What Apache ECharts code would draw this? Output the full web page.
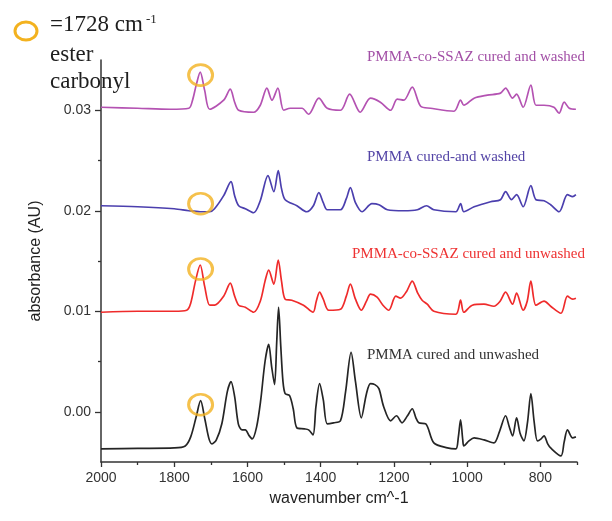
<!DOCTYPE html>
<html>
<head>
<meta charset="utf-8">
<script src="https://cdn.jsdelivr.net/npm/echarts@6/dist/echarts.min.js"></script>
<style>
html,body{margin:0;padding:0;background:#fff;}
#chart{width:612px;height:521px;}
</style>
</head>
<body>
<div id="chart"></div>
<script>
// ---- data ----
const seriesNames = ['PMMA-co-SSAZ cured and washed', 'PMMA cured-and washed', 'PMMA-co-SSAZ cured and unwashed', 'PMMA cured and unwashed'];
const seriesColors = ['#b452b2', '#4b3fae', '#ef2b2b', '#252525'];
const labelColors = ['#a24fa6', '#5344a6', '#ee3232', '#333333'];

const wnPurple = [2000,1900,1811,1760,1750,1740,1729,1717,1703,1665,1647,1635,1624,1583,1565,1547,1533,1517,1501,1483,1451,1433,1405,1382,1346,1321,1292,1264,1237,1209,1191,1173,1150,1127,1100,1036,1018,1009,981,945,909,895,876,865,847,826,812,790,763,749,735,721,703];
const absPurple = [0.0303,0.0302,0.0301,0.0302,0.0310,0.0325,0.0338,0.0320,0.0301,0.0310,0.0321,0.0308,0.0300,0.0298,0.0305,0.0322,0.0310,0.0322,0.0300,0.0302,0.0302,0.0296,0.0312,0.0302,0.0300,0.0316,0.0298,0.0312,0.0308,0.0300,0.0311,0.0310,0.0323,0.0304,0.0302,0.0299,0.0310,0.0305,0.0312,0.0315,0.0317,0.0322,0.0312,0.0316,0.0303,0.0325,0.0305,0.0305,0.0303,0.0297,0.0308,0.0302,0.0301];

const wnBlue = [2000,1900,1800,1760,1729,1703,1690,1665,1645,1635,1624,1606,1583,1565,1544,1528,1516,1507,1497,1465,1438,1420,1405,1393,1382,1346,1330,1319,1305,1287,1260,1241,1218,1173,1136,1111,1091,1031,1018,1009,981,936,909,895,879,865,847,826,812,790,772,749,726,712,703];
const absBlue = [0.0205,0.0204,0.0202,0.0200,0.0199,0.0199,0.0202,0.0215,0.0229,0.0215,0.0205,0.0202,0.0198,0.0210,0.0235,0.0219,0.0240,0.0222,0.0211,0.0205,0.0199,0.0205,0.0218,0.0208,0.0201,0.0201,0.0212,0.0223,0.0208,0.0199,0.0207,0.0206,0.0201,0.0200,0.0201,0.0205,0.0201,0.0199,0.0207,0.0199,0.0204,0.0209,0.0211,0.0219,0.0211,0.0216,0.0204,0.0225,0.0211,0.0210,0.0206,0.0199,0.0216,0.0214,0.0216];

const wnRed = [2000,1900,1800,1766,1755,1742,1729,1717,1703,1690,1665,1647,1635,1624,1606,1583,1565,1552,1542,1528,1516,1507,1497,1479,1447,1421,1412,1403,1393,1378,1346,1330,1319,1305,1289,1275,1264,1246,1230,1214,1195,1182,1165,1150,1135,1123,1109,1091,1031,1018,1009,986,954,927,910,895,876,865,847,836,826,812,790,772,744,726,712,703];
const absRed = [0.0099,0.0100,0.0100,0.0101,0.0108,0.0130,0.0146,0.0125,0.0106,0.0106,0.0115,0.0128,0.0115,0.0106,0.0104,0.0099,0.0110,0.0130,0.0141,0.0127,0.0151,0.0130,0.0112,0.0111,0.0106,0.0099,0.0110,0.0119,0.0112,0.0101,0.0102,0.0115,0.0127,0.0112,0.0101,0.0110,0.0117,0.0114,0.0106,0.0101,0.0115,0.0113,0.0120,0.0130,0.0118,0.0111,0.0107,0.0100,0.0097,0.0111,0.0099,0.0106,0.0107,0.0105,0.0110,0.0119,0.0107,0.0118,0.0101,0.0110,0.0130,0.0106,0.0110,0.0105,0.0098,0.0115,0.0112,0.0113];

const wnBlack = [2000,1900,1800,1770,1755,1740,1728,1716,1705,1697,1685,1670,1655,1645,1635,1625,1615,1606,1595,1587,1575,1564,1552,1542,1534,1526,1520,1515,1509,1503,1497,1485,1475,1465,1445,1433,1421,1413,1403,1393,1382,1365,1346,1332,1317,1305,1289,1275,1264,1252,1241,1228,1209,1193,1178,1163,1150,1140,1132,1113,1091,1054,1031,1024,1018,1012,1009,995,981,954,927,912,895,885,876,865,855,845,835,826,817,808,798,790,780,772,744,735,726,712,703];
const absBlack = [-0.0037,-0.00365,-0.0036,-0.0034,-0.0025,-0.0005,0.0011,-0.0008,-0.0027,-0.0032,-0.0028,-0.0012,0.0020,0.0030,0.0015,-0.0012,-0.0018,-0.0018,-0.0024,-0.0027,-0.0015,0.0011,0.0050,0.0067,0.0045,0.0027,0.0070,0.0104,0.0065,0.0030,0.0018,0.0016,0.0003,-0.0016,-0.0017,-0.0018,-0.0023,0.0005,0.0028,0.0012,-0.0012,-0.0011,-0.0009,0.0020,0.0059,0.0030,-0.0006,0.0018,0.0028,0.0027,0.0023,0.0005,-0.0009,-0.0004,-0.0011,-0.0004,0.0003,-0.0006,-0.0011,-0.0012,-0.0031,-0.0036,-0.0037,-0.0025,-0.0008,-0.0028,-0.0034,-0.0029,-0.0026,-0.0028,-0.0031,-0.0020,-0.0004,-0.0015,-0.0024,-0.0006,-0.0022,-0.0029,-0.0010,0.0018,-0.0010,-0.0029,-0.0027,-0.0024,-0.0032,-0.0036,-0.0044,-0.0030,-0.0018,-0.0026,-0.0025];

// ester carbonyl markers (circles) at 1728 cm-1
const markerWn = [1728, 1728, 1728, 1728];
const markerAbs = [0.0335, 0.0207, 0.0142, 0.0007];

const xMajorTicks = [2000, 1800, 1600, 1400, 1200, 1000, 800];
const xMinorTicks = [1900, 1700, 1500, 1300, 1100, 900, 700];
const yMajorTicks = [0.00, 0.01, 0.02, 0.03];
const yMinorTicks = [0.005, 0.015, 0.025];

// ---- chart ----
const zip = (xs, ys) => xs.map((x, i) => [x, ys[i]]);
const allWn = [wnPurple, wnBlue, wnRed, wnBlack];
const allAbs = [absPurple, absBlue, absRed, absBlack];

const chart = echarts.init(document.getElementById('chart'), null, {renderer: 'canvas'});
const axisColor = '#333';
const sans = 'Liberation Sans, Arial, sans-serif';
const serif = 'Liberation Serif, Times New Roman, serif';

const lineSeries = allWn.map((wn, i) => ({
  name: seriesNames[i],
  type: 'line',
  xAxisIndex: 0, yAxisIndex: 0,
  data: zip(wn, allAbs[i]),
  showSymbol: false,
  smooth: 0.3,
  lineStyle: {color: seriesColors[i], width: 1.7},
  itemStyle: {color: seriesColors[i]},
  z: 2
}));

const option = {
  backgroundColor: '#ffffff',
  animation: false,
  grid: {left: 101, right: 35, top: 60, bottom: 59, containLabel: false},
  xAxis: [
    {
      type: 'value', inverse: true, min: 700, max: 2000, position: 'bottom',
      axisLine: {show: true, onZero: false, lineStyle: {color: axisColor, width: 1.5}},
      axisTick: {show: true, customValues: xMajorTicks, length: 5, lineStyle: {color: axisColor, width: 1.3}},
      axisLabel: {customValues: xMajorTicks, fontFamily: sans, fontSize: 14, color: '#333', margin: 9,
        formatter: v => String(Math.round(v))},
      splitLine: {show: false},
      name: 'wavenumber cm^-1', nameLocation: 'middle', nameGap: 29,
      nameTextStyle: {fontFamily: sans, fontSize: 16, color: '#222'}
    },
    {
      type: 'value', inverse: true, min: 700, max: 2000, position: 'bottom',
      axisLine: {show: false, onZero: false},
      axisTick: {show: true, customValues: xMinorTicks, length: 3, lineStyle: {color: axisColor, width: 1.3}},
      axisLabel: {show: false},
      splitLine: {show: false}
    }
  ],
  yAxis: [
    {
      type: 'value', min: -0.005, max: 0.035, position: 'left',
      axisLine: {show: true, onZero: false, lineStyle: {color: axisColor, width: 1.5}},
      axisTick: {show: true, customValues: yMajorTicks, length: 6, lineStyle: {color: axisColor, width: 1.3}},
      axisLabel: {customValues: yMajorTicks, fontFamily: sans, fontSize: 14, color: '#333', margin: 10,
        formatter: v => Number(v).toFixed(2)},
      splitLine: {show: false},
      name: 'absorbance (AU)', nameLocation: 'middle', nameGap: 57, nameRotate: 90,
      nameTextStyle: {fontFamily: sans, fontSize: 16, color: '#222'}
    },
    {
      type: 'value', min: -0.005, max: 0.035, position: 'left',
      axisLine: {show: false, onZero: false},
      axisTick: {show: true, customValues: yMinorTicks, length: 3, lineStyle: {color: axisColor, width: 1.3}},
      axisLabel: {show: false},
      splitLine: {show: false}
    }
  ],
  series: lineSeries.concat([{
    type: 'scatter',
    xAxisIndex: 0, yAxisIndex: 0,
    data: zip(markerWn, markerAbs),
    symbol: 'circle',
    symbolSize: [24, 21],
    itemStyle: {color: 'rgba(0,0,0,0)', borderColor: '#f3b21f', borderWidth: 2.8},
    z: 5,
    silent: true
  }]),
  graphic: [
    {type: 'ellipse', shape: {cx: 26, cy: 31, rx: 11, ry: 9},
     style: {fill: 'none', stroke: '#f3b21f', lineWidth: 3}},
    {type: 'text', x: 50, y: 25, style: {text: '=1728 cm', font: '23px ' + serif, fill: '#1e1e1e', verticalAlign: 'middle'}},
    {type: 'text', x: 146, y: 20, style: {text: '-1', font: '13px ' + serif, fill: '#1e1e1e', verticalAlign: 'middle'}},
    {type: 'text', x: 50, y: 55, style: {text: 'ester', font: '23px ' + serif, fill: '#1e1e1e', verticalAlign: 'middle'}},
    {type: 'text', x: 50, y: 82, style: {text: 'carbonyl', font: '23px ' + serif, fill: '#1e1e1e', verticalAlign: 'middle'}},
    {type: 'text', x: 367, y: 57, style: {text: seriesNames[0], font: '15px ' + serif, fill: labelColors[0], verticalAlign: 'middle'}},
    {type: 'text', x: 367, y: 157, style: {text: seriesNames[1], font: '15px ' + serif, fill: labelColors[1], verticalAlign: 'middle'}},
    {type: 'text', x: 352, y: 254, style: {text: seriesNames[2], font: '15px ' + serif, fill: labelColors[2], verticalAlign: 'middle'}},
    {type: 'text', x: 367, y: 355, style: {text: seriesNames[3], font: '15px ' + serif, fill: labelColors[3], verticalAlign: 'middle'}}
  ]
};
chart.setOption(option);
</script>
</body>
</html>
